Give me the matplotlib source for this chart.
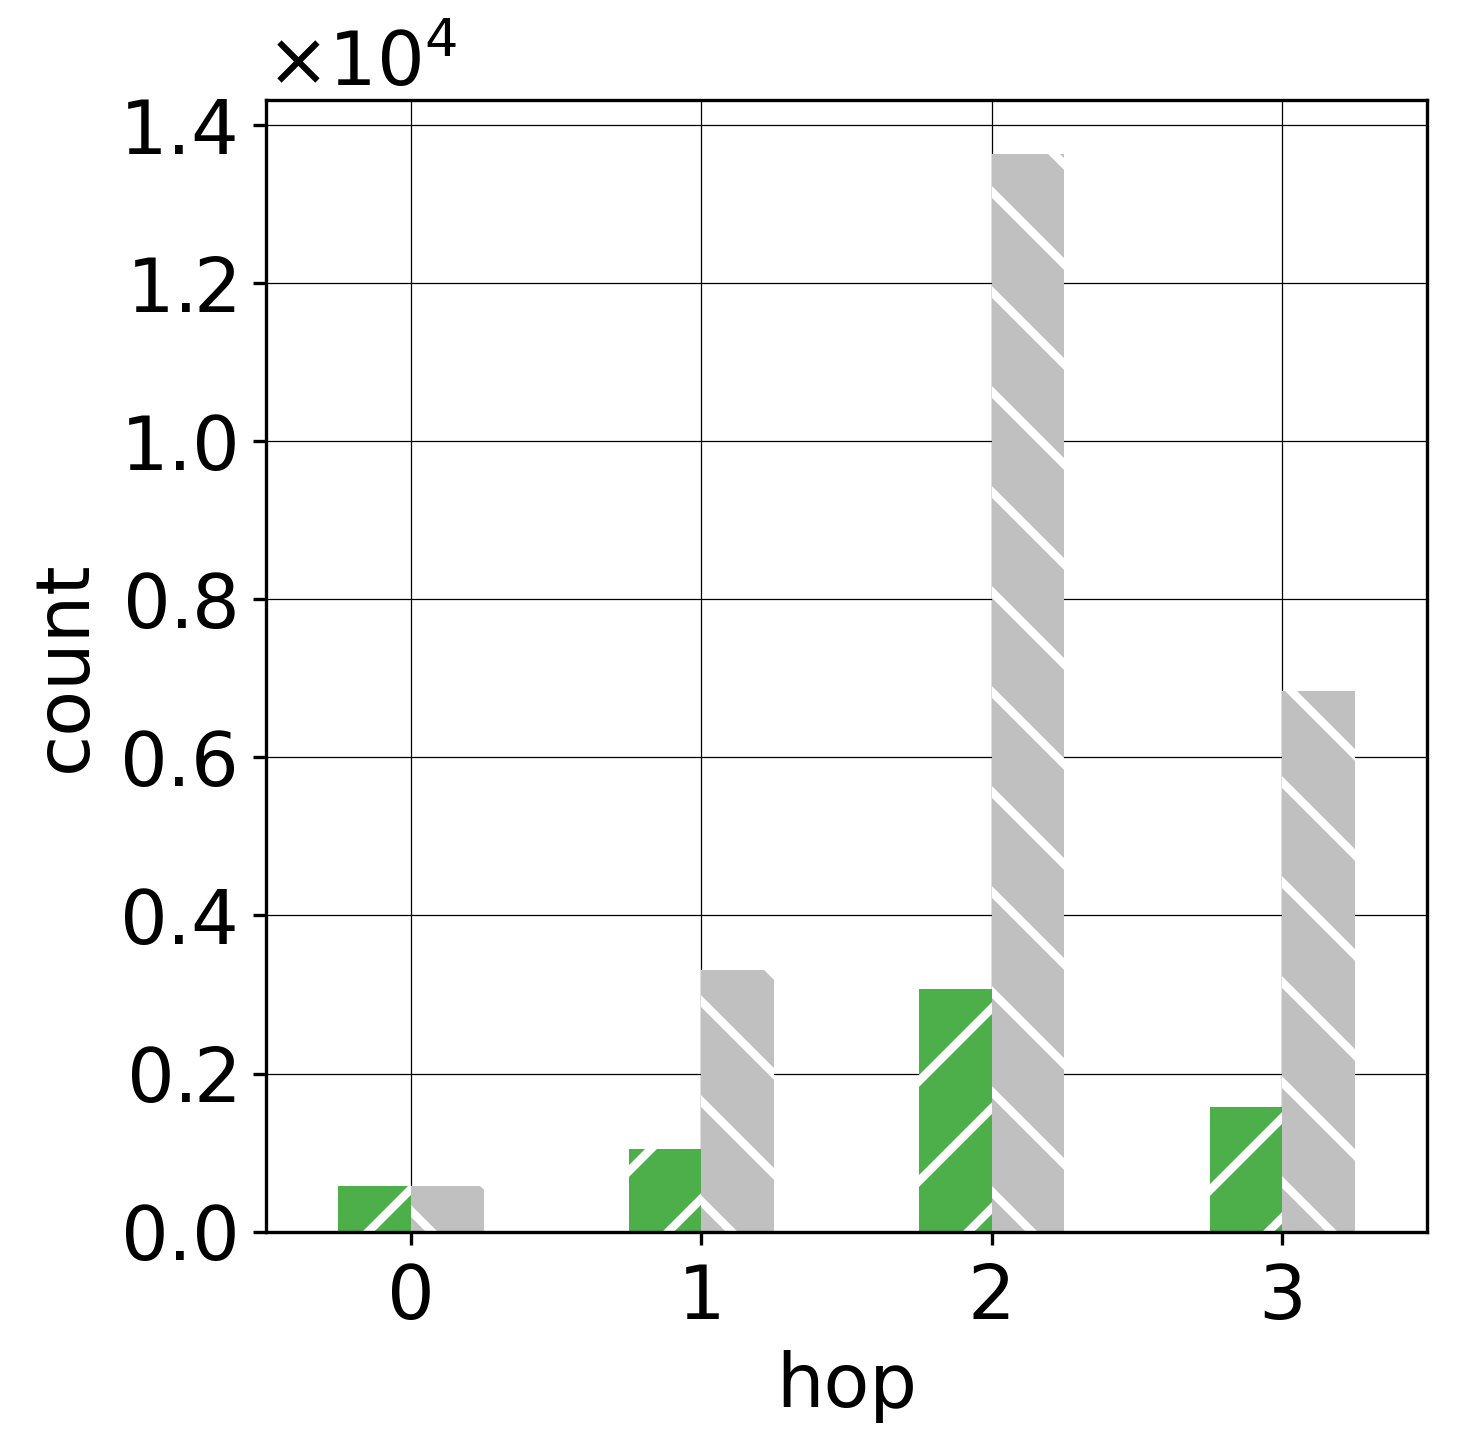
import numpy as np
import matplotlib
matplotlib.use("Agg")
from matplotlib import pyplot as plt
from matplotlib.ticker import MultipleLocator
from matplotlib.transforms import ScaledTranslation

# counts per hop
hops = [0, 1, 2, 3]
green_counts = [580, 1040, 3075, 1580]
gray_counts = [575, 3305, 13635, 6840]

GREEN = "#4daf4a"
GRAY = "#c0c0c0"

plt.rcParams["hatch.linewidth"] = 1.0
plt.rcParams["hatch.color"] = "white"

fig, ax = plt.subplots(figsize=(1461 / 600, 1454 / 600), dpi=600)
fig.subplots_adjust(left=0.182, right=0.977, bottom=0.153, top=0.931)

x = np.array(hops)
width = 0.25
ax.bar(x - width / 2, green_counts, width, color=GREEN, hatch="//", edgecolor="white", linewidth=0)
ax.bar(x + width / 2, gray_counts, width, color=GRAY, hatch="\\\\", edgecolor="white", linewidth=0)

ax.set_xlim(-0.5, 3.5)
ax.set_xticks(hops)
ax.yaxis.set_major_locator(MultipleLocator(2000))
ax.set_xlabel("hop", fontsize=9, labelpad=1.8)
ax.set_ylabel("count", fontsize=9, labelpad=2)
ax.ticklabel_format(axis="y", style="sci", scilimits=(0, 0), useMathText=True)
off = ax.yaxis.get_offset_text()
off.set_fontsize(9)
# nudge the x10^4 label down a touch
off.set_transform(off.get_transform() + ScaledTranslation(0, -11 / 600, fig.dpi_scale_trans))
ax.tick_params(labelsize=9, length=1.6, width=0.4, pad=2)
for s in ax.spines.values():
    s.set_linewidth(0.4)
ax.set_axisbelow(True)
ax.grid(True, color="black", linewidth=0.15)

plt.savefig("out.png", dpi=600)
